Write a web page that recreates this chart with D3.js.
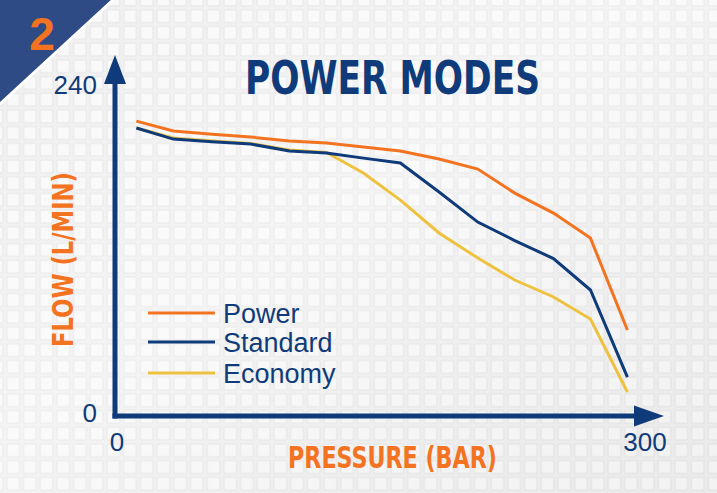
<!DOCTYPE html>
<html><head><meta charset="utf-8">
<script src="https://cdn.jsdelivr.net/npm/d3@7"></script>
<style>html,body{margin:0;padding:0;background:#f0f0f0;}svg{display:block;}</style>
</head><body>
<script>
const pressure = [11, 32, 54, 76, 98, 119, 140, 161, 183, 205, 226, 248, 269, 290];
const powerFlow    = [213.6, 206.3, 204, 201.9, 199, 197.5, 194.6, 191.7, 185.8, 178.5, 160.9, 146.3, 128, 60.7];
const standardFlow = [208.5, 200.4, 198.5, 196.8, 191.7, 190.2, 186.5, 182.9, 161.7, 139.7, 126.2, 113, 90, 26.3];
const economyFlow  = [208.5, 201.2, 199, 197.2, 192.5, 190.6, 175.6, 155.8, 131.7, 113.4, 97.3, 84.9, 68.8, 15.4];
const seriesNames = ["Power", "Standard", "Economy"];
const seriesColors = ["#f47321", "#0f3b7a", "#eec23e"];
const xTicks = [0, 300];
const yTicks = [0, 240];

const W = 717, H = 493;
const navy = "#0f3b7a", orange = "#f47321";
const svg = d3.select("body").append("svg").attr("width", W).attr("height", H);
const defs = svg.append("defs");
const P = 16.7;
const pat = defs.append("pattern").attr("id","tiles").attr("patternUnits","userSpaceOnUse")
  .attr("width",P).attr("height",P).attr("x",4.8).attr("y",7.8);
pat.append("rect").attr("width",P).attr("height",P).attr("fill","#eeeeee");
pat.append("rect").attr("x",2).attr("y",2).attr("width",P-4).attr("height",P-4).attr("rx",1.2)
  .attr("fill","#f8f8f8").attr("stroke","#e0e0e0").attr("stroke-width",1);
const lg = defs.append("linearGradient").attr("id","crumple").attr("x1","0").attr("y1","0").attr("x2","1").attr("y2","1");
lg.append("stop").attr("offset","0%").attr("stop-color","#ffffff").attr("stop-opacity",0.1);
lg.append("stop").attr("offset","45%").attr("stop-color","#ffffff").attr("stop-opacity",0.35);
lg.append("stop").attr("offset","100%").attr("stop-color","#dcdcdc").attr("stop-opacity",0.2);

svg.append("rect").attr("width",W).attr("height",H).attr("fill","url(#tiles)");
svg.append("rect").attr("width",W).attr("height",H).attr("fill","url(#crumple)");

// badge
svg.append("polygon").attr("points","0,0 112,0 0,103").attr("fill","#2f4b86");
svg.append("line").attr("x1",113).attr("y1",0).attr("x2",0).attr("y2",104).attr("stroke","#ffffff").attr("stroke-width",3);
svg.append("text").attr("x",42).attr("y",50).attr("text-anchor","middle")
  .attr("font-family","Liberation Sans, Arial, sans-serif").attr("font-weight","bold").attr("font-size",46)
  .attr("fill",orange).text("2");

const condFont = "Liberation Sans Narrow, DejaVu Sans Condensed, Liberation Sans, sans-serif";
// title
svg.append("text").attr("x",245).attr("y",94)
  .attr("font-family",condFont)
  .attr("font-stretch","condensed").attr("font-weight","bold").attr("font-size",47)
  .attr("textLength",295).attr("lengthAdjust","spacingAndGlyphs")
  .attr("fill",navy).text("POWER MODES");

const x = d3.scaleLinear().domain([0,300]).range([117,645]);
const y = d3.scaleLinear().domain([0,240]).range([413,85]);

const ox = 115, oy = 416;
// axes
svg.append("line").attr("x1",ox).attr("y1",oy+2.5).attr("x2",ox).attr("y2",80).attr("stroke",navy).attr("stroke-width",5);
svg.append("polygon").attr("points",`${ox},55 ${ox-11},84 ${ox+11},84`).attr("fill",navy);
svg.append("line").attr("x1",ox-2.5).attr("y1",oy).attr("x2",640).attr("y2",oy).attr("stroke",navy).attr("stroke-width",5);
svg.append("polygon").attr("points",`664,${oy} 634,${oy-10.5} 634,${oy+10.5}`).attr("fill",navy);

const tickFont = "Liberation Sans, Arial, Helvetica, sans-serif";
svg.selectAll("text.yt").data(yTicks).enter().append("text").attr("class","yt")
  .attr("x",97).attr("y",d=>y(d)+9).attr("text-anchor","end")
  .attr("font-family",tickFont).attr("font-size",26).attr("fill",navy).text(d=>d);
svg.selectAll("text.xt").data(xTicks).enter().append("text").attr("class","xt")
  .attr("x",d=>x(d)).attr("y",451).attr("text-anchor","middle")
  .attr("font-family",tickFont).attr("font-size",26).attr("fill",navy).text(d=>d);

// axis titles
svg.append("text").attr("x",288).attr("y",468)
  .attr("font-family",condFont).attr("font-stretch","condensed").attr("font-weight","bold").attr("font-size",31)
  .attr("textLength",209).attr("lengthAdjust","spacingAndGlyphs")
  .attr("fill",orange).text("PRESSURE (BAR)");
svg.append("text").attr("transform","translate(73,347) rotate(-90)")
  .attr("font-family",condFont).attr("font-stretch","condensed").attr("font-weight","bold").attr("font-size",29)
  .attr("textLength",175).attr("lengthAdjust","spacingAndGlyphs")
  .attr("fill",orange).text("FLOW (L/MIN)");

// lines
const allSeries = [powerFlow, standardFlow, economyFlow];
const line = d3.line().x((d,i)=>x(pressure[i])).y(d=>y(d));
const drawOrder = [2,1,0];
drawOrder.forEach(k=>{
  svg.append("path").datum(allSeries[k]).attr("d",line).attr("fill","none")
    .attr("stroke",seriesColors[k]).attr("stroke-width",3).attr("stroke-linejoin","miter");
});

// legend
const legY = [313, 342, 373];
seriesNames.forEach((n,i)=>{
  svg.append("line").attr("x1",148).attr("x2",215).attr("y1",legY[i]).attr("y2",legY[i])
    .attr("stroke",seriesColors[i]).attr("stroke-width",3);
  svg.append("text").attr("x",223).attr("y",legY[i]+9.5).attr("font-family",tickFont)
    .attr("font-size",27).attr("fill",navy).text(n);
});
</script>
</body></html>
